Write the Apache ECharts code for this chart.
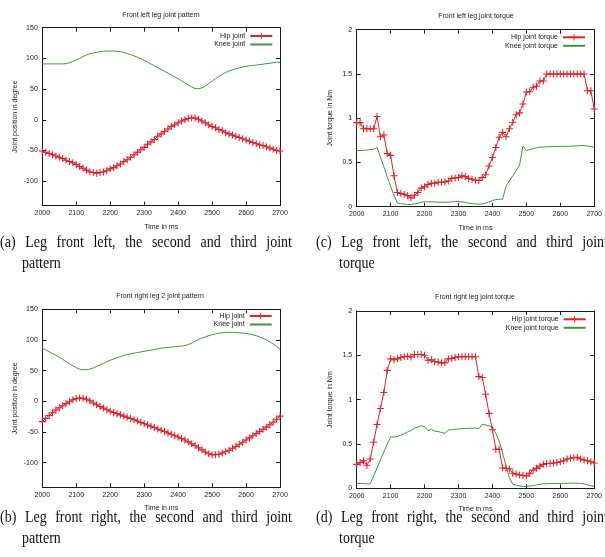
<!DOCTYPE html>
<html><head><meta charset="utf-8">
<script src="https://cdn.jsdelivr.net/npm/echarts@6/dist/echarts.min.js"></script>
<style>html,body{margin:0;padding:0;background:#fff}#c{width:605px;height:557px}</style>
</head><body><div id="c"></div>
<script>
// ---------------- data ----------------
const timeMs = [2000,2010,2020,2030,2040,2050,2060,2070,2080,2090,
  2100,2110,2120,2130,2140,2150,2160,2170,2180,2190,
  2200,2210,2220,2230,2240,2250,2260,2270,2280,2290,
  2300,2310,2320,2330,2340,2350,2360,2370,2380,2390,
  2400,2410,2420,2430,2440,2450,2460,2470,2480,2490,
  2500,2510,2520,2530,2540,2550,2560,2570,2580,2590,
  2600,2610,2620,2630,2640,2650,2660,2670,2680,2690,2700];

const xTicks = [2000,2100,2200,2300,2400,2500,2600,2700];
const angleTicks = [-100,-50,0,50,100,150];
const torqueTicks = [0,0.5,1,1.5,2];

const panelTitles = ['Front left leg joint pattern','Front left leg joint torque','Front right leg 2 joint pattern','Front right leg joint torque'];
const angleNames = ['Hip joint','Knee joint'];
const torqueNames = ['Hip joint torque','Knee joint torque'];
const xAxisName = 'Time in ms';
const angleAxisName = 'Joint position in degree';
const torqueAxisName = 'Joint torque in Nm';

const captionA = ['(a) Leg front left, the second and third joint','pattern'];
const captionC = ['(c) Leg front left, the second and third joint','torque'];
const captionB = ['(b) Leg front right, the second and third joint','pattern'];
const captionD = ['(d) Leg front right, the second and third joint','torque'];

// (a) front left joint pattern (degree)
const hipA = [-51,-53,-55,-57,-59,-61,-63,-66,-68,-70,
  -73,-76,-79,-82,-85,-86,-87,-86,-85,-83,
  -80,-78,-75,-72,-68,-65,-61,-57,-53,-49,
  -45,-40,-36,-32,-27,-23,-19,-15,-11,-8,
  -5,-2,0,2,3,3,1,-2,-5,-8,
  -11,-13,-16,-18,-21,-23,-25,-27,-29,-31,
  -33,-35,-37,-39,-41,-42,-44,-46,-48,-50,-51];
const kneeA = [91,91,91,91,91,91,91,91.5,93,95,
  97.5,100,103,105.5,107.5,109,110,111,111.5,112,
  112,112,111.5,111,109.5,108,106,104,102,99.5,
  97,94,91,88,85,82,79,76,73,70,
  67,63.5,60,56.5,53.5,51,50.5,52,55,59,
  63,67,70.5,74,77,79.5,81.5,83,84.5,86,
  87,88,88.5,89,90,90.5,91.5,92,93,93.5,94];

// (b) front right joint pattern (degree)
const hipB = [-33,-28,-23,-18.5,-14,-10.5,-7,-3.5,-0.5,2.5,
  4.5,5.5,5,3.5,1,-2.5,-5.5,-8.5,-11,-13.5,
  -16,-18,-20,-22,-24,-26,-28,-30,-32,-34.5,
  -36.5,-38.5,-40.5,-42.5,-45,-47,-49,-51.5,-53.5,-56,
  -58,-60.5,-63,-66,-69,-72,-75.5,-79,-82.5,-85.5,
  -87,-87,-86,-84,-82,-79.5,-76.5,-73.5,-70,-66.5,
  -63,-59.5,-56,-52.5,-49,-45.5,-42,-38,-34,-29,-24];
const kneeB = [86.5,84,81,78,75,72,68.5,65,61.5,58,
  55,52.5,51.5,51.5,52.5,54.5,57,59.5,62,64.5,
  67,69,71,73,74.5,76,77.5,78.5,79.5,80.5,
  81.5,82.5,83.5,84.5,85.5,86.5,87.5,88,88.5,89,
  89.5,90,91,92.5,95,98,101,103,105,107,
  108.5,110,111,111.7,112.2,112.4,112.4,112.2,111.8,111.3,
  110.6,109.6,108.4,107,105,102.7,100,97,93.5,89.5,85];

// (c) front left joint torque (Nm)
const hipC = [0.95,0.95,0.88,0.88,0.88,0.88,1.02,0.79,0.81,0.60,
  0.58,0.35,0.16,0.15,0.14,0.125,0.10,0.13,0.16,0.21,
  0.225,0.25,0.265,0.265,0.275,0.275,0.28,0.29,0.32,0.325,
  0.33,0.35,0.34,0.32,0.31,0.30,0.295,0.33,0.36,0.46,
  0.555,0.67,0.785,0.84,0.79,0.88,0.955,1.04,1.06,1.16,
  1.295,1.30,1.35,1.36,1.42,1.42,1.5,1.5,1.5,1.5,
  1.5,1.5,1.5,1.5,1.5,1.5,1.5,1.5,1.31,1.31,1.105];
const kneeC = [0.635,0.635,0.637,0.64,0.645,0.65,0.67,0.56,0.45,0.34,
  0.23,0.13,0.04,0.035,0.03,0.025,0.025,0.03,0.04,0.05,
  0.055,0.055,0.055,0.053,0.052,0.05,0.05,0.052,0.055,0.058,
  0.06,0.055,0.048,0.04,0.035,0.03,0.03,0.03,0.04,0.055,
  0.07,0.08,0.085,0.085,0.23,0.29,0.35,0.41,0.47,0.685,
  0.635,0.645,0.655,0.665,0.672,0.674,0.676,0.678,0.679,0.68,
  0.681,0.682,0.683,0.684,0.686,0.688,0.69,0.692,0.685,0.68,0.673];

// (d) front right joint torque (Nm)
const hipD = [0.27,0.29,0.31,0.26,0.33,0.52,0.72,0.90,1.08,1.33,
  1.46,1.45,1.46,1.475,1.485,1.49,1.48,1.51,1.51,1.51,
  1.50,1.445,1.45,1.43,1.425,1.415,1.415,1.46,1.465,1.475,
  1.485,1.485,1.485,1.485,1.485,1.485,1.26,1.25,1.06,0.845,
  0.66,0.44,0.44,0.23,0.225,0.22,0.17,0.16,0.15,0.145,
  0.14,0.17,0.205,0.225,0.25,0.27,0.28,0.28,0.285,0.29,
  0.30,0.31,0.33,0.34,0.345,0.35,0.33,0.32,0.31,0.30,0.285];
const kneeD = [0.056,0.056,0.054,0.05,0.05,0.14,0.23,0.32,0.41,0.50,
  0.58,0.578,0.585,0.60,0.615,0.635,0.65,0.68,0.69,0.705,
  0.695,0.65,0.665,0.645,0.64,0.63,0.62,0.658,0.66,0.665,
  0.67,0.673,0.675,0.677,0.678,0.68,0.675,0.72,0.715,0.705,
  0.69,0.62,0.53,0.40,0.25,0.12,0.045,0.035,0.028,0.022,
  0.02,0.025,0.03,0.038,0.045,0.05,0.052,0.053,0.054,0.055,
  0.055,0.056,0.056,0.057,0.058,0.058,0.055,0.05,0.04,0.03,0.02];

// ---------------- styling / layout ----------------
const SANS = '"Liberation Sans", Arial, sans-serif';
const SERIF = '"Liberation Serif", "Times New Roman", serif';
const RED = '#e0222a', GREEN = '#3f9642', INK = '#1a1a1a';
const PLUS = 'path://M-0.15,-1L0.15,-1L0.15,-0.15L1,-0.15L1,0.15L0.15,0.15L0.15,1L-0.15,1L-0.15,0.15L-1,0.15L-1,-0.15L-0.15,-0.15Z';
const FS = 7;

const panels = [
  {grid:{left:42.3, top:27.7, width:237.7, height:178}, title:panelTitles[0], tx:161, ty:15,
   yName:angleAxisName, yMin:-140, yMax:150, yTicks:angleTicks, names:angleNames, hip:hipA, knee:kneeA, lgRight:331.7, lgTop:32},
  {grid:{left:356.7, top:29.7, width:239, height:177}, title:panelTitles[1], tx:476, ty:15.7,
   yName:torqueAxisName, yMin:0, yMax:2, yTicks:torqueTicks, names:torqueNames, hip:hipC, knee:kneeC, lgRight:19, lgTop:33.3},
  {grid:{left:42.3, top:309.3, width:237.7, height:178}, title:panelTitles[2], tx:160, ty:296,
   yName:angleAxisName, yMin:-140, yMax:150, yTicks:angleTicks, names:angleNames, hip:hipB, knee:kneeB, lgRight:332.3, lgTop:312},
  {grid:{left:356.7, top:311, width:239, height:177.3}, title:panelTitles[3], tx:475, ty:297.3,
   yName:torqueAxisName, yMin:0, yMax:2, yTicks:torqueTicks, names:torqueNames, hip:hipD, knee:kneeD, lgRight:18.3, lgTop:315.3}
];

const lineAx = {show:true, onZero:false, lineStyle:{color:INK, width:1}};
const tickAx = (vals) => ({show:true, inside:true, length:4, lineStyle:{color:INK, width:1}, customValues:vals});
const plain = (v) => String(v);

const grids = [], xAxes = [], yAxes = [], series = [], legends = [], graphics = [];
panels.forEach((p, i) => {
  grids.push(Object.assign({containLabel:false}, p.grid));
  xAxes.push({type:'value', gridIndex:i, position:'bottom', min:2000, max:2700,
    axisLine:lineAx, axisTick:tickAx(xTicks), splitLine:{show:false},
    axisLabel:{customValues:xTicks, formatter:plain, fontSize:FS, fontFamily:SANS, color:INK, margin:4},
    name:xAxisName, nameLocation:'middle', nameGap:17.5, nameTextStyle:{fontSize:FS, fontFamily:SANS, color:INK}});
  xAxes.push({type:'value', gridIndex:i, position:'top', min:2000, max:2700,
    axisLine:lineAx, axisTick:tickAx(xTicks), splitLine:{show:false}, axisLabel:{show:false}});
  yAxes.push({type:'value', gridIndex:i, position:'left', min:p.yMin, max:p.yMax,
    axisLine:lineAx, axisTick:tickAx(p.yTicks), splitLine:{show:false},
    axisLabel:{customValues:p.yTicks, formatter:plain, fontSize:FS, fontFamily:SANS, color:INK, margin:4.5},
    name:p.yName, nameLocation:'middle', nameGap:23.5, nameRotate:90, nameTextStyle:{fontSize:FS, fontFamily:SANS, color:INK}});
  yAxes.push({type:'value', gridIndex:i, position:'right', min:p.yMin, max:p.yMax,
    axisLine:lineAx, axisTick:tickAx(p.yTicks), splitLine:{show:false}, axisLabel:{show:false}});
  series.push({type:'line', name:p.names[0], xAxisIndex:2*i, yAxisIndex:2*i,
    data:timeMs.map((t, k) => [t, p.hip[k]]), symbol:PLUS, symbolSize:7, showSymbol:true,
    lineStyle:{color:RED, width:1}, itemStyle:{color:RED}, z:3});
  series.push({type:'line', name:p.names[1], xAxisIndex:2*i, yAxisIndex:2*i,
    data:timeMs.map((t, k) => [t, p.knee[k]]), symbol:'none', showSymbol:false,
    lineStyle:{color:GREEN, width:1}, itemStyle:{color:'rgba(0,0,0,0)', opacity:0}, z:2});
  legends.push({data:[{name:p.names[0]}, {name:p.names[1], itemStyle:{opacity:0}}],
    orient:'vertical', align:'right', right:p.lgRight, top:p.lgTop,
    padding:0, itemWidth:22, itemHeight:8, itemGap:0.5, selectedMode:false,
    textStyle:{fontSize:FS, fontFamily:SANS, color:INK, lineHeight:8}});
  graphics.push({type:'text', x:p.tx, y:p.ty, silent:true,
    style:{text:p.title, fontSize:FS, fontFamily:SANS, fill:INK, align:'center', verticalAlign:'middle'}});
});

// captions: justified first line, hanging-indented second line
const mctx = document.createElement('canvas').getContext('2d');
const CAP_FS = 14, CAP_SY = 1.15;
mctx.font = CAP_FS + 'px ' + SERIF;
function capText(s, x, y) {
  return {type:'text', x:x, y:y, scaleY:CAP_SY, silent:true,
    style:{text:s, fontSize:CAP_FS, fontFamily:SERIF, fill:'#111', align:'left', verticalAlign:'middle'}};
}
function captionEls(lines, x0, x1, y1, indent, y2) {
  const words = lines[0].split(' ');
  const w = words.map(s => mctx.measureText(s).width);
  const gap = (x1 - x0 - w.reduce((a, b) => a + b, 0)) / (words.length - 1);
  let x = x0;
  const out = [];
  words.forEach((s, k) => { out.push(capText(s, x, y1)); x += w[k] + gap; });
  out.push(capText(lines[1], x0 + indent, y2));
  return out;
}
graphics.push(...captionEls(captionA, 0, 292, 243, 22, 263.5));
graphics.push(...captionEls(captionC, 316, 608, 243, 23, 263.5));
graphics.push(...captionEls(captionB, 0, 292, 518, 22, 539));
graphics.push(...captionEls(captionD, 316, 608, 518, 23, 539));

const chart = echarts.init(document.getElementById('c'), null, {renderer:'canvas'});
chart.setOption({
  animation:false,
  backgroundColor:'#ffffff',
  grid:grids, xAxis:xAxes, yAxis:yAxes, series:series, legend:legends,
  graphic:graphics
});
</script></body></html>
